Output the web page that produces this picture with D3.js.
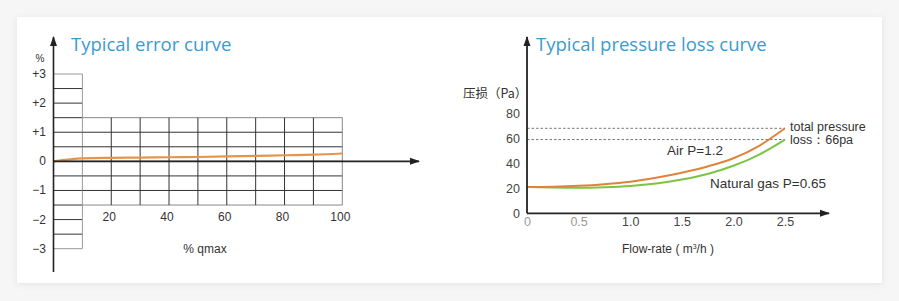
<!DOCTYPE html>
<html>
<head>
<meta charset="utf-8">
<script src="https://cdn.jsdelivr.net/npm/d3@7"></script>
<style>
  html, body { margin: 0; padding: 0; background: #f6f6f6; }
  svg { display: block; }
  .title { font-family: "Open Sans", sans-serif; font-size: 18.5px; fill: #3a9bcf; }
  .lbl { font-family: "Liberation Sans", Arial, sans-serif; font-size: 12px; fill: #333; }
  .tick text { font-family: "Liberation Sans", Arial, sans-serif; font-size: 12.5px; fill: #333; }
</style>
</head>
<body>
<svg id="canvas" width="899" height="301"></svg>
<script>
// error curve data (% of qmax vs error %)
const errQ = [0, 10, 20, 30, 40, 50, 60, 70, 80, 90, 100];
const errVal = [0, 0.1, 0.12, 0.13, 0.14, 0.15, 0.17, 0.19, 0.21, 0.23, 0.27];
const errYTicks = [3, 2, 1, 0, -1, -2, -3];
const errYLabels = ['+3', '+2', '+1', '0', '\u22121', '\u22122', '\u22123'];
const errXTicks = [20, 40, 60, 80, 100];

// pressure loss data (flow m3/h vs Pa)
const flow = [0, 0.25, 0.5, 0.75, 1.0, 1.25, 1.5, 1.75, 2.0, 2.25, 2.5];
const airLoss = [21, 21.3, 22, 23.3, 25.3, 28.5, 32.5, 37.5, 44, 54, 68];
const gasLoss = [21, 20.6, 20.4, 20.8, 21.8, 23.8, 27, 31.5, 38, 47, 59];
const lossYTicks = [0, 20, 40, 60, 80];
const flowTicks = [0, 0.5, 1.0, 1.5, 2.0, 2.5];
const refLevels = [68, 59];

const svg = d3.select('#canvas');

// card
const defs = svg.append('defs');
const f = defs.append('filter').attr('id', 'sh').attr('x', -0.05).attr('y', -0.1).attr('width', 1.1).attr('height', 1.2);
f.append('feDropShadow').attr('dx', 0).attr('dy', 1).attr('stdDeviation', 3).attr('flood-color', '#000').attr('flood-opacity', 0.08);
svg.append('rect').attr('x', 17).attr('y', 17).attr('width', 865).attr('height', 266)
  .attr('fill', '#fff').attr('filter', 'url(#sh)');

defs.append('marker').attr('id', 'arr').attr('viewBox', '0 0 10 10')
  .attr('refX', 9).attr('refY', 5).attr('markerWidth', 10).attr('markerHeight', 10)
  .attr('markerUnits', 'userSpaceOnUse').attr('orient', 'auto')
  .append('path').attr('d', 'M0,1.5 L10,5 L0,8.5 Z').attr('fill', '#222');

// ---------- left: typical error curve ----------
const xL = d3.scaleLinear().domain([0, 100]).range([53.5, 342.3]);
const yL = d3.scaleLinear().domain([-3, 3]).range([248.7, 74]);
const gL = svg.append('g');

const halfSteps = d3.range(-6, 7).map(d => d / 2);
// narrow column (0..10), full height
gL.selectAll('line.col').data(halfSteps).enter().append('line')
  .attr('x1', xL(0)).attr('x2', xL(10))
  .attr('y1', d => yL(d)).attr('y2', d => yL(d))
  .attr('stroke', d => Math.abs(d) === 3 ? '#999' : '#333').attr('stroke-width', 1);
gL.append('line').attr('x1', xL(10)).attr('x2', xL(10)).attr('y1', yL(3)).attr('y2', yL(-3))
  .attr('stroke', '#999');
// wide grid
const wideRows = halfSteps.filter(d => Math.abs(d) <= 1.5);
gL.selectAll('line.row').data(wideRows).enter().append('line')
  .attr('x1', xL(10)).attr('x2', xL(100))
  .attr('y1', d => yL(d)).attr('y2', d => yL(d))
  .attr('stroke', d => Math.abs(d) === 1.5 ? '#888' : '#333');
gL.selectAll('line.vcol').data(d3.range(20, 101, 10)).enter().append('line')
  .attr('x1', d => xL(d)).attr('x2', d => xL(d))
  .attr('y1', yL(1.5)).attr('y2', yL(-1.5))
  .attr('stroke', d => d === 100 ? '#888' : '#333');

// curve
gL.append('path').datum(errQ.map((q, i) => [q, errVal[i]]))
  .attr('fill', 'none').attr('stroke', '#e5954a').attr('stroke-width', 2.2)
  .attr('d', d3.line().x(d => xL(d[0])).y(d => yL(d[1])).curve(d3.curveMonotoneX));

// axes with arrows
gL.append('line').attr('x1', xL(0)).attr('x2', xL(0)).attr('y1', 272).attr('y2', 37)
  .attr('stroke', '#222').attr('stroke-width', 1.6).attr('marker-end', 'url(#arr)');
gL.append('line').attr('x1', xL(0)).attr('x2', 419).attr('y1', yL(0)).attr('y2', yL(0))
  .attr('stroke', '#222').attr('stroke-width', 1.6).attr('marker-end', 'url(#arr)');

// tick labels
gL.selectAll('text.yl').data(errYTicks).enter().append('text').attr('class', 'lbl')
  .attr('x', 46).attr('y', d => yL(d) + 4).attr('text-anchor', 'end')
  .text((d, i) => errYLabels[i]);
gL.selectAll('text.xl').data(errXTicks).enter().append('text').attr('class', 'lbl')
  .attr('x', d => xL(d) - 2).attr('y', 221).attr('text-anchor', 'middle').text(d => d);
gL.append('text').attr('class', 'lbl').attr('x', 40).attr('y', 62).attr('text-anchor', 'middle')
  .style('font-size', '10px').text('%');
gL.append('text').attr('class', 'lbl').attr('x', 205).attr('y', 253).attr('text-anchor', 'middle')
  .style('font-size', '12px').text('% qmax');
gL.append('text').attr('class', 'title').attr('x', 71).attr('y', 51).text('Typical error curve');

// ---------- right: typical pressure loss curve ----------
const xR = d3.scaleLinear().domain([0, 2.5]).range([527, 785]);
const yR = d3.scaleLinear().domain([0, 80]).range([213.3, 113.3]);
const gR = svg.append('g');

// reference dashed levels
gR.selectAll('line.ref').data(refLevels).enter().append('line')
  .attr('x1', xR(0)).attr('x2', xR(2.5))
  .attr('y1', d => yR(d)).attr('y2', d => yR(d))
  .attr('stroke', '#777').attr('stroke-width', 1).attr('stroke-dasharray', '2.5,2');

const lineR = d3.line().x(d => xR(d[0])).y(d => yR(d[1])).curve(d3.curveMonotoneX);
gR.append('path').datum(flow.map((q, i) => [q, gasLoss[i]]))
  .attr('fill', 'none').attr('stroke', '#7cc444').attr('stroke-width', 2).attr('d', lineR);
gR.append('path').datum(flow.map((q, i) => [q, airLoss[i]]))
  .attr('fill', 'none').attr('stroke', '#e0833a').attr('stroke-width', 2).attr('d', lineR);

// axes via d3 axis (no domain/ticks lines, only labels)
const yAxR = gR.append('g').attr('transform', `translate(${xR(0)},0)`)
  .call(d3.axisLeft(yR).tickValues(lossYTicks).tickSize(0).tickPadding(7));
yAxR.select('.domain').remove();
yAxR.selectAll('.tick text').style('fill', '#444');
const xAxR = gR.append('g').attr('transform', `translate(0,${yR(0)})`)
  .call(d3.axisBottom(xR).tickValues(flowTicks).tickSize(0).tickPadding(4)
    .tickFormat(d => d === 0 ? '0' : d3.format('.1f')(d)));
xAxR.select('.domain').remove();
xAxR.selectAll('.tick text').style('fill', (d, i) => i < 2 ? '#999' : '#444');

gR.append('line').attr('x1', xR(0)).attr('x2', xR(0)).attr('y1', yR(0)).attr('y2', 37)
  .attr('stroke', '#222').attr('stroke-width', 1.8).attr('marker-end', 'url(#arr)');
gR.append('line').attr('x1', xR(0)).attr('x2', 829).attr('y1', yR(0)).attr('y2', yR(0))
  .attr('stroke', '#222').attr('stroke-width', 1.8).attr('marker-end', 'url(#arr)');

gR.append('text').attr('class', 'lbl').attr('x', 463).attr('y', 98)
  .style('font-family', '"Noto Sans CJK SC", sans-serif').style('font-size', '12.5px').text('压损（Pa）');
gR.append('text').attr('class', 'lbl').attr('x', 668).attr('y', 253).attr('text-anchor', 'middle')
  .style('font-size', '12px').html('Flow-rate ( m<tspan dy="-4" font-size="7">3</tspan><tspan dy="4">/h )</tspan>');
gR.append('text').attr('class', 'lbl').attr('x', 667).attr('y', 155).style('font-size', '13.5px').text('Air P=1.2');
gR.append('text').attr('class', 'lbl').attr('x', 710).attr('y', 188).style('font-size', '13.5px').text('Natural gas P=0.65');
gR.append('text').attr('class', 'lbl').attr('x', 790).attr('y', 131).style('font-size', '12.5px').text('total pressure');
gR.append('text').attr('class', 'lbl').attr('x', 790).attr('y', 144).style('font-size', '12.5px').text('loss：66pa');
gR.append('text').attr('class', 'title').attr('x', 536).attr('y', 51).text('Typical pressure loss curve');
</script>
</body>
</html>
